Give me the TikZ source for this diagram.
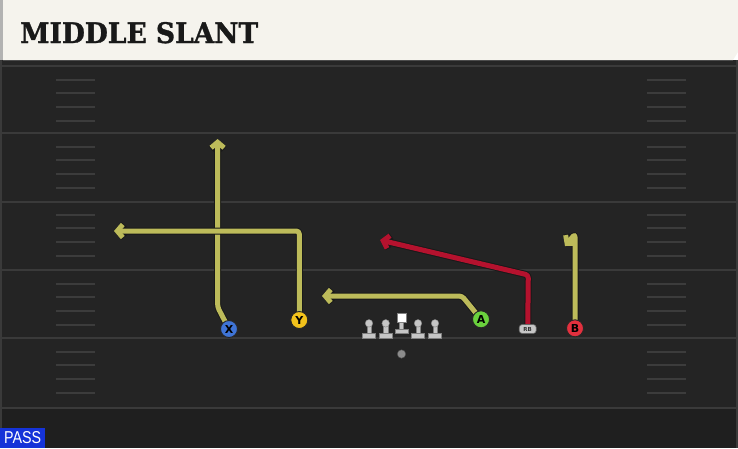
\documentclass[tikz,border=0pt]{standalone}
\usepackage{graphicx}
\usepackage{fontspec}
\setmainfont{DejaVu Sans}
\newfontfamily\titlefont[BoldFeatures={FakeBold=1.2}]{DejaVu Serif}
\newfontfamily\passfont{Liberation Sans}
\usetikzlibrary{arrows.meta}
\pgfdeclarelayer{field}
\pgfdeclarelayer{routes}
\pgfsetlayers{field,routes,main}
\definecolor{headerbg}{HTML}{F5F3ED}
\definecolor{fieldbg}{HTML}{242424}
\definecolor{fieldlow}{HTML}{1F1F1F}
\definecolor{yardcol}{HTML}{3A3A3A}
\definecolor{hashcol}{HTML}{3C3C3C}
\definecolor{routeY}{HTML}{BDBB5A}
\definecolor{routeR}{HTML}{B5122E}
\definecolor{xblue}{HTML}{3F74D6}
\definecolor{yyellow}{HTML}{F2C21B}
\definecolor{agreen}{HTML}{6AD13D}
\definecolor{bred}{HTML}{E2303E}
\definecolor{linegray}{HTML}{C6C6C6}
\definecolor{passblue}{HTML}{1533D8}
\newcommand\playroute[2]{\draw[routeoutline] #2; \draw[#1] #2;}
\begin{document}
\begin{tikzpicture}[x=1pt,y=-1pt,
  yardline/.style={draw=yardcol, line width=2pt},
  hash/.style={draw=hashcol, line width=2pt},
  routebase/.style={rounded corners=3pt, line join=round,
     -{Straight Barb[length=5.5pt,width=13pt]}},
  routeoutline/.style={routebase, draw=black!90, line width=7pt},
  routeyel/.style={routebase, draw=routeY, line width=5pt},
  routered/.style={routebase, draw=routeR, line width=5pt},
  player/.style={circle, draw=black!85, line width=0.9pt, minimum size=17pt,
     inner sep=0pt, text=black, font=\bfseries\fontsize{11}{11}\selectfont},
  rbnode/.style={rounded corners=3pt, fill=linegray, draw=black!60, line width=0.6pt,
     minimum width=17pt, minimum height=9pt, inner sep=0pt, text=black!80,
     font=\bfseries\fontsize{5.5}{5.5}\selectfont},
  lineman/.style={fill=linegray, draw=black!50, line width=0.4pt},
  passbox/.style={fill=passblue, text=white, inner sep=0pt, minimum width=45pt,
     minimum height=20pt}
]
\useasboundingbox (0,0) rectangle (738,448);
\begin{pgfonlayer}{field}
  \fill[fieldbg] (0,60) rectangle (738,448);
  \fill[fieldlow] (0,408) rectangle (738,448);
  \fill[black!85] (0,60) rectangle (738,65);
  \foreach \y in {66,133,201.5,270,338,408}
    \draw[yardline] (2,\y) -- (736,\y);
  \foreach \b in {66,133,201.5,270,338}
    \foreach \o in {13.5,26.5,40.5,54.5} {
      \draw[hash] (56,\b+\o) -- (95,\b+\o);
      \draw[hash] (647,\b+\o) -- (686,\b+\o);
    }
  \fill[yardcol] (0,60) rectangle (2,448);
  \fill[yardcol] (736,60) rectangle (738,448);
  \fill[headerbg] (3,0) -- (738,0) -- (738,52) -- (733,60) -- (3,60) -- cycle;
  \fill[black!30] (0,0) rectangle (3,60);
  \draw[black!70, line width=1pt] (3,60) -- (733,60);
\end{pgfonlayer}

\node[anchor=base west, inner sep=0pt, text=black!90] (title) at (20,43)
  {\resizebox{238pt}{21pt}{\titlefont\bfseries MIDDLE SLANT}};

% players
\node[player, fill=xblue] (X) at (229,329) {X};
\node[player, fill=yyellow] (Y) at (299.3,320) {Y};
\node[player, fill=agreen] (A) at (481,319.3) {A};
\node[player, fill=bred] (B) at (575,328.3) {B};
\node[rbnode] (RB) at (527.7,329) {RB};

% offensive line
\foreach \x in {369,385.7,418,435} {
  \fill[lineman] (\x-6.5,333.3) rectangle (\x+6.5,338.3);
  \fill[lineman] (\x-2.2,324) rectangle (\x+2.2,333.3);
  \fill[lineman] (\x,323.3) circle (3.8);
}
\node[draw=black!50, fill=white, line width=0.4pt, minimum size=9pt, inner sep=0pt] (C) at (401.4,318) {};
\fill[lineman] (395,329) rectangle (408,333.5);
\fill[lineman] (399.2,322.5) rectangle (403.6,329);
\node[circle, fill=black!45, draw=black!70, line width=0.4pt, minimum size=8.5pt, inner sep=0pt] (QB) at (401.5,354) {};

% route waypoints
\coordinate (xbend) at (217.6,307);
\coordinate (xend) at (217.6,139);
\coordinate (ycorner) at (299.3,231);
\coordinate (yend) at (114,231);
\coordinate (abend) at (462,296);
\coordinate (aend) at (322,296);
\coordinate (rbcorner) at (528.3,275);
\coordinate (rbend) at (380,240);
\coordinate (btop) at (575,234);
\coordinate (bend) at (565,246);

\begin{pgfonlayer}{routes}
  \playroute{routeyel}{(X.center) -- (xbend) -- (xend)}
  \playroute{routeyel}{(Y.center) -- (ycorner) -- (yend)}
  \playroute{routeyel}{(A.center) -- (abend) -- (aend)}
  \playroute{routered}{(RB.center) -- (rbcorner) -- (rbend)}
  \playroute{routeyel}{(B.center) -- (btop) -- (bend)}
\end{pgfonlayer}

\node[passbox, anchor=south west] (pass) at (0,448)
  {\resizebox{37pt}{12pt}{\passfont PASS}};
\end{tikzpicture}
\end{document}
